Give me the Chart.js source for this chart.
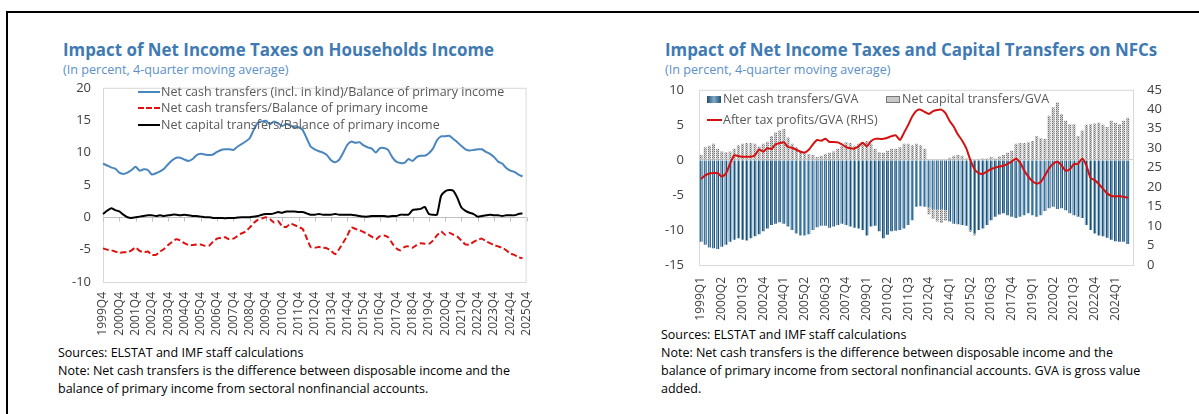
<!DOCTYPE html>
<html>
<head>
<meta charset="utf-8">
<script src="https://cdn.jsdelivr.net/npm/chart.js@4.4.1/dist/chart.umd.min.js"></script>
<style>
  body { margin: 0; background: #fff; font-family: "Open Sans", sans-serif; }
  #page { position: relative; width: 1199px; height: 414px; overflow: hidden; background: #fff; }
  #frame { position: absolute; left: 6px; top: 11px; width: 1300px; height: 500px; border-top: 2px solid #000; border-left: 2px solid #000; }
  .title { position: absolute; font-weight: bold; color: #3F7AB3; font-size: 16.9px; white-space: nowrap; line-height: 20px; }
  .sub { position: absolute; color: #5B90C8; font-size: 12.6px; white-space: nowrap; line-height: 14px; }
  .note { position: absolute; color: #000; font-size: 12.5px; line-height: 18px; white-space: nowrap; }
  .lg { position: absolute; font-size: 12.5px; color: #595959; white-space: nowrap; line-height: 16px; display: flex; align-items: center; z-index: 2; }
  .ln { display: inline-block; width: 22px; height: 0; margin-right: 1px; }
  .bx { display: inline-block; width: 14px; height: 7px; margin-right: 2px; }
  canvas { position: absolute; z-index: 1; }
</style>
</head>
<body>
<div id="page">
  <div id="frame"></div>

  <div class="title" style="left:63px;top:40px">Impact of Net Income Taxes on Households Income</div>
  <div class="sub" style="left:63px;top:63px">(In percent, 4-quarter moving average)</div>

  <div class="title" style="left:665px;top:40px">Impact of Net Income Taxes and Capital Transfers on NFCs</div>
  <div class="sub" style="left:665px;top:63px">(In percent, 4-quarter moving average)</div>

  <canvas id="hh" width="496" height="268" style="left:55px;top:68px;width:496px;height:268px"></canvas>
  <canvas id="nfc" width="520" height="263" style="left:650px;top:67px;width:520px;height:263px"></canvas>

  <div class="lg" style="left:138px;top:84px"><span class="ln" style="border-top:2px solid #4A86BE"></span>Net cash transfers (incl. in kind)/Balance of primary income</div>
  <div class="lg" style="left:138px;top:100px"><span class="ln" style="border-top:2px dashed #E01010"></span>Net cash transfers/Balance of primary income</div>
  <div class="lg" style="left:138px;top:117px"><span class="ln" style="border-top:2px solid #000"></span>Net capital transfers/Balance of primary income</div>

  <div class="lg" style="left:707px;top:91px"><span class="bx" style="background:linear-gradient(90deg,#24506F,#7FAACB,#24506F)"></span>Net cash transfers/GVA</div>
  <div class="lg" style="left:886px;top:91px"><span class="bx" style="background:#C8C8C8;border:1px solid #777;width:12px;height:5px"></span>Net capital transfers/GVA</div>
  <div class="lg" style="left:707px;top:112px"><span class="ln" style="border-top:2px solid #D41010;width:15px"></span>After tax profits/GVA (RHS)</div>

  <div class="note" style="left:58px;top:344px">Sources: ELSTAT and IMF staff calculations<br>Note: Net cash transfers is the difference between disposable income and the<br>balance of primary income from sectoral nonfinancial accounts.</div>
  <div class="note" style="left:661px;top:326px">Sources: ELSTAT and IMF staff calculations<br>Note: Net cash transfers is the difference between disposable income and the<br>balance of primary income from sectoral nonfinancial accounts. GVA is gross value<br>added.</div>
</div>

<script>
// Households chart, 1999Q4 - 2025Q4
const hhQuarters = [];
for (let y = 1999; y <= 2025; y++) {
  for (let q = 1; q <= 4; q++) {
    if (y === 1999 && q < 4) continue;
    hhQuarters.push(y + 'Q' + q);
  }
}
const netCashInKind = [8.3,8.0,7.7,7.5,6.9,6.7,6.9,7.3,7.8,7.2,
  7.4,7.3,6.6,6.8,7.1,7.5,8.2,8.8,9.2,9.2,
  8.9,8.7,9.0,9.6,9.8,9.7,9.6,9.7,10.1,10.4,
  10.5,10.5,10.4,10.9,11.3,11.7,12.2,13.5,14.6,14.8,
  14.9,14.4,14.8,14.5,14.1,14.4,14.2,13.9,13.9,13.5,
  12.2,10.9,10.5,10.2,10.0,9.6,8.8,8.5,8.9,10.0,
  11.2,11.7,11.5,11.6,11.1,10.8,10.6,10.0,10.7,10.7,
  10.4,9.3,8.6,8.4,8.4,9.0,8.7,9.3,9.5,9.5,
  9.9,10.6,11.9,12.5,12.5,12.6,12.1,11.6,11.0,10.5,
  10.3,10.4,10.5,10.5,10.1,9.8,9.3,8.6,8.3,7.6,
  7.2,7.0,6.6,6.3];
const netCash = [-4.8,-5.0,-5.1,-5.3,-5.5,-5.4,-5.4,-5.1,-4.7,-5.2,
  -5.4,-5.3,-5.8,-5.8,-5.3,-4.9,-4.3,-3.8,-3.4,-3.6,
  -4.0,-4.3,-4.3,-4.2,-4.2,-4.4,-4.4,-3.8,-3.3,-3.2,
  -3.1,-3.4,-3.3,-2.9,-2.5,-2.2,-1.6,-0.9,-0.4,-0.2,
  0.0,-0.3,-0.8,-0.6,-1.4,-1.5,-1.0,-1.2,-1.5,-1.8,
  -3.2,-4.6,-4.7,-4.6,-4.7,-4.8,-5.2,-5.7,-4.9,-3.9,
  -2.8,-1.6,-1.8,-2.0,-2.3,-2.6,-3.0,-3.4,-2.9,-2.8,
  -3.1,-4.0,-4.8,-5.1,-4.6,-4.5,-4.7,-4.3,-4.0,-4.1,
  -4.1,-3.6,-2.8,-2.2,-2.7,-2.4,-2.7,-3.0,-3.6,-4.2,
  -4.2,-3.8,-3.5,-3.3,-3.7,-4.0,-4.3,-4.5,-4.7,-5.1,
  -5.6,-5.8,-6.2,-6.3];
const netCapital = [0.5,1.0,1.4,1.1,0.9,0.4,0.0,-0.1,0.0,0.1,
  0.2,0.3,0.3,0.2,0.3,0.2,0.3,0.4,0.4,0.3,
  0.4,0.3,0.2,0.2,0.1,0.0,0.0,-0.1,-0.1,-0.1,
  -0.15,-0.1,-0.1,-0.05,0.0,0.0,0.0,0.1,0.2,0.4,
  0.5,0.5,0.6,0.8,0.7,0.9,0.9,0.9,0.8,0.8,
  0.6,0.4,0.4,0.5,0.4,0.4,0.4,0.5,0.4,0.4,
  0.4,0.4,0.3,0.2,0.1,0.1,0.2,0.2,0.2,0.2,
  0.1,0.2,0.2,0.4,0.4,0.4,1.1,1.2,1.3,1.6,
  0.5,0.4,0.4,3.3,4.0,4.2,4.1,3.0,1.5,1.0,
  0.7,0.5,0.1,0.2,0.3,0.4,0.3,0.3,0.2,0.3,
  0.3,0.3,0.5,0.6];

// NFC chart, 1999Q1 - 2025Q1
const nfcQuarters = [];
for (let y = 1999; y <= 2025; y++) {
  for (let q = 1; q <= 4; q++) {
    if (y === 2025 && q > 1) continue;
    nfcQuarters.push(y + 'Q' + q);
  }
}
const cashGVA = [-11.7,-12.1,-12.5,-12.6,-12.7,-12.4,-12.1,-11.7,-11.4,-11.2,
  -11.4,-11.5,-11.2,-10.9,-10.6,-10.2,-9.8,-9.3,-9.1,-8.9,
  -9.1,-9.5,-10.0,-10.5,-10.8,-10.8,-10.6,-10.0,-9.6,-9.4,
  -9.4,-9.7,-9.5,-9.3,-9.1,-9.3,-9.5,-9.7,-9.8,-10.0,
  -10.8,-9.5,-9.4,-10.2,-11.2,-10.7,-10.2,-10.1,-10.0,-9.8,
  -9.3,-8.6,-6.7,-6.6,-6.7,-6.8,-7.0,-7.1,-7.0,-7.2,
  -8.8,-9.1,-9.2,-9.3,-9.4,-10.0,-10.5,-10.0,-9.8,-9.3,
  -8.6,-8.1,-7.8,-7.6,-7.9,-8.1,-8.3,-8.1,-7.9,-7.6,
  -7.9,-8.1,-7.9,-7.3,-6.9,-6.7,-7.0,-6.9,-7.2,-7.6,
  -7.9,-8.1,-8.3,-9.3,-10.0,-10.5,-10.8,-10.9,-11.1,-11.4,
  -11.6,-11.7,-11.7,-12.0];
const capitalGVA = [0.7,1.8,2.0,2.3,1.6,1.2,1.1,1.2,1.6,2.1,
  2.3,2.4,2.4,2.3,1.9,2.3,2.6,3.4,3.9,4.2,
  4.4,3.2,2.3,1.8,1.3,1.0,0.85,0.7,0.4,0.6,
  0.85,1.0,1.2,1.6,2.0,2.5,2.4,2.0,2.3,2.5,
  2.7,2.3,1.6,1.1,1.0,1.3,1.6,1.6,1.8,2.3,
  2.3,2.1,2.3,2.1,1.6,-1.0,-1.4,-1.7,-2.0,-1.5,
  0.3,0.6,0.7,0.6,0.2,-0.3,-0.3,0.1,0.2,0.2,
  0.4,0.2,0.5,0.7,1.0,1.3,2.3,2.4,2.4,2.5,
  2.7,3.4,3.1,3.0,6.3,7.5,8.2,6.5,5.6,5.1,
  5.1,3.4,4.2,5.0,5.1,5.2,5.3,5.0,4.7,5.6,
  5.3,5.1,5.6,6.0];
const profitsGVA = [22.1,23.0,23.5,23.6,23.6,22.7,23.5,26.0,28.2,28.0,
  27.8,27.8,27.8,28.2,29.7,29.1,30.0,29.8,31.0,31.3,
  31.5,30.3,30.1,29.6,29.1,28.9,29.6,31.0,32.1,31.9,
  32.4,31.6,31.6,31.5,31.0,30.3,30.0,29.9,30.5,31.4,
  30.5,31.8,32.4,32.4,32.4,32.7,33.1,33.3,32.1,34.0,
  36.0,38.2,39.6,39.9,39.3,38.8,39.5,39.8,39.9,39.0,
  37.0,35.5,33.5,32.0,30.0,27.0,24.6,23.6,23.4,24.0,
  24.6,25.0,25.3,25.5,26.0,26.6,27.3,26.3,24.3,22.7,
  21.5,20.9,21.3,23.0,24.8,26.0,26.5,25.6,24.2,24.6,
  25.9,26.0,27.3,25.6,22.4,21.8,20.8,19.6,18.4,17.8,
  17.6,17.7,17.5,17.3];

Chart.defaults.font.family = '"Open Sans", sans-serif';
Chart.defaults.color = '#404040';

// light grey box round the plot area
const plotFrame = {
  id: 'plotFrame',
  beforeDatasetsDraw(chart) {
    const a = chart.chartArea, c = chart.ctx;
    c.save();
    c.strokeStyle = '#D9D9D9';
    c.lineWidth = 1;
    c.strokeRect(a.left + 0.5, a.top + 0.5, a.right - a.left - 1, a.bottom - a.top);
    c.restore();
  }
};

// small tick marks hanging off the zero line (households chart)
const zeroTicks = {
  id: 'zeroTicks',
  beforeDatasetsDraw(chart) {
    const x = chart.scales.x, y0 = Math.round(chart.scales.y.getPixelForValue(0)) + 0.5, c = chart.ctx;
    c.save();
    c.strokeStyle = '#BFBFBF';
    c.lineWidth = 1;
    hhQuarters.forEach((q, i) => {
      if (i % 4 !== 0) return;
      const px = Math.round(x.getPixelForValue(i)) + 0.5;
      c.beginPath();
      c.moveTo(px, y0);
      c.lineTo(px, y0 + 4);
      c.stroke();
    });
    c.restore();
  }
};

const zeroGrid = (col) => ({
  drawTicks: false,
  color: (ctx) => (ctx.tick && ctx.tick.value === 0 ? col : 'rgba(0,0,0,0)')
});

new Chart(document.getElementById('hh'), {
  type: 'line',
  data: {
    labels: hhQuarters,
    datasets: [
      { label: 'Net cash transfers (incl. in kind)/Balance of primary income', data: netCashInKind,
        borderColor: '#4A86BE', borderWidth: 2, pointRadius: 0, tension: 0.2 },
      { label: 'Net cash transfers/Balance of primary income', data: netCash,
        borderColor: '#E01010', borderWidth: 2, borderDash: [6, 3], pointRadius: 0, tension: 0.2 },
      { label: 'Net capital transfers/Balance of primary income', data: netCapital,
        borderColor: '#000000', borderWidth: 2, pointRadius: 0, tension: 0.2 }
    ]
  },
  options: {
    responsive: false,
    animation: false,
    devicePixelRatio: 1,
    layout: { padding: { top: 0, right: 10, left: 0, bottom: 0 } },
    plugins: { legend: { display: false }, tooltip: { enabled: false } },
    scales: {
      x: {
        afterFit(s) { s.height = 54; },
        grid: { display: false, drawTicks: false },
        border: { display: false },
        ticks: {
          autoSkip: false, minRotation: 90, maxRotation: 90, padding: 10,
          font: { size: 12 },
          callback(v, i) { return i % 4 === 0 ? this.getLabelForValue(v) : null; }
        }
      },
      y: {
        min: -10, max: 20,
        afterFit(s) { s.width = 48; },
        grid: zeroGrid('#BFBFBF'),
        border: { display: false },
        ticks: { stepSize: 5, autoSkip: false, padding: 12, font: { size: 13 } }
      }
    }
  },
  plugins: [plotFrame, zeroTicks]
});

// bar fills
function stripes(cols) {
  const cv = document.createElement('canvas');
  cv.width = cols.length; cv.height = 1;
  const g = cv.getContext('2d');
  cols.forEach((col, i) => { g.fillStyle = col; g.fillRect(i, 0, 1, 1); });
  return g.createPattern(cv, 'repeat');
}
function dots() {
  const cv = document.createElement('canvas');
  cv.width = 2; cv.height = 2;
  const g = cv.getContext('2d');
  g.fillStyle = '#D4D4D4'; g.fillRect(0, 0, 2, 2);
  g.fillStyle = '#707070'; g.fillRect(0, 0, 1, 1);
  g.fillStyle = '#A8A8A8'; g.fillRect(1, 1, 1, 1);
  return g.createPattern(cv, 'repeat');
}

new Chart(document.getElementById('nfc'), {
  type: 'bar',
  data: {
    labels: nfcQuarters,
    datasets: [
      { type: 'line', label: 'After tax profits/GVA (RHS)', data: profitsGVA, yAxisID: 'y1',
        borderColor: '#D41010', borderWidth: 2, pointRadius: 0, tension: 0.2, order: 0 },
      { label: 'Net cash transfers/GVA', data: cashGVA, yAxisID: 'y', stack: 's',
        backgroundColor: stripes(['#24506F', '#5C8DB3', '#3C6F96', '#8AB3D1']), borderWidth: 0,
        categoryPercentage: 1, barPercentage: 0.72, order: 1 },
      { label: 'Net capital transfers/GVA', data: capitalGVA, yAxisID: 'y', stack: 's',
        backgroundColor: dots(), borderWidth: 0,
        categoryPercentage: 1, barPercentage: 0.72, order: 2 }
    ]
  },
  options: {
    responsive: false,
    animation: false,
    devicePixelRatio: 1,
    layout: { padding: { top: 0, right: 0, left: 0, bottom: 0 } },
    plugins: { legend: { display: false }, tooltip: { enabled: false } },
    scales: {
      x: {
        stacked: true,
        afterFit(s) { s.height = 65; },
        grid: { display: false, drawTicks: false },
        border: { display: false },
        ticks: {
          autoSkip: false, minRotation: 90, maxRotation: 90, padding: 12,
          font: { size: 12 },
          callback(v, i) { return i % 5 === 0 ? this.getLabelForValue(v) : null; }
        }
      },
      y: {
        stacked: true,
        position: 'left',
        min: -15, max: 10,
        afterFit(s) { s.width = 49; },
        grid: zeroGrid('#D0D0D0'),
        border: { display: false },
        ticks: { stepSize: 5, autoSkip: false, padding: 15, font: { size: 13 } }
      },
      y1: {
        position: 'right',
        min: 0, max: 45,
        afterFit(s) { s.width = 36; },
        grid: { display: false, drawTicks: false },
        border: { display: false },
        ticks: { stepSize: 5, autoSkip: false, padding: 13, font: { size: 13 } }
      }
    }
  },
  plugins: [plotFrame]
});
</script>
</body>
</html>
